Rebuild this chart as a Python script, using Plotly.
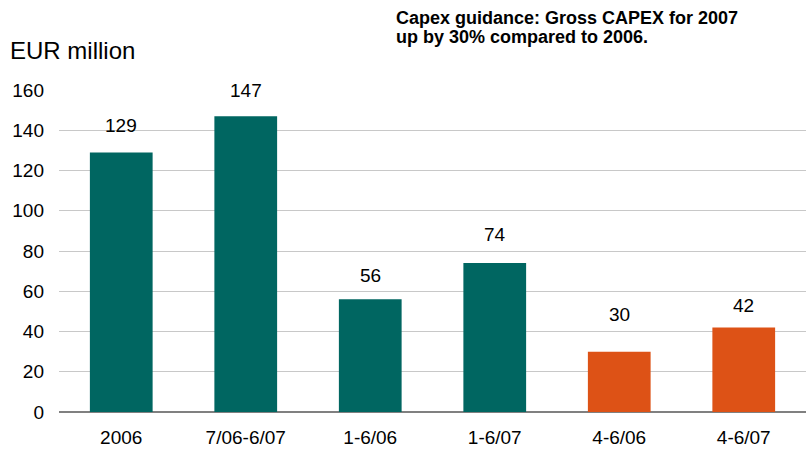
import plotly.graph_objects as go

categories = ["2006", "7/06-6/07", "1-6/06", "1-6/07", "4-6/06", "4-6/07"]
capex = [129, 147, 56, 74, 30, 42]
bar_colors = ["#006661", "#006661", "#006661", "#006661", "#DD5216", "#DD5216"]
label_offsets = [14, 13, 11, 16, 25, 9]  # pixel gap between bar top and its value label
y_ticks = [0, 20, 40, 60, 80, 100, 120, 140, 160]

FONT = "Liberation Sans, Arial, sans-serif"

fig = go.Figure()
fig.add_trace(go.Bar(
    x=categories,
    y=capex,
    marker=dict(color=bar_colors, line=dict(width=0)),
    hoverinfo="x+y",
))

# value labels above the bars (category index positions)
for i, (v, off) in enumerate(zip(capex, label_offsets)):
    fig.add_annotation(
        x=i, y=v, text=str(v), showarrow=False,
        yanchor="bottom", yshift=off,
        font=dict(family=FONT, size=19, color="#000000"),
    )

fig.add_annotation(
    xref="paper", yref="paper", x=-0.068, y=1.124,
    xanchor="left", yanchor="middle",
    text="EUR million", showarrow=False,
    font=dict(family=FONT, size=24, color="#000000"),
)
fig.add_annotation(
    xref="paper", yref="paper", x=0.449, y=1.2236,
    xanchor="left", yanchor="middle",
    text="<b>Capex guidance: Gross CAPEX for 2007</b>",
    showarrow=False,
    font=dict(family=FONT, size=18, color="#000000"),
)
fig.add_annotation(
    xref="paper", yref="paper", x=0.449, y=1.1646,
    xanchor="left", yanchor="middle",
    text="<b>up by 30% compared to 2006.</b>",
    showarrow=False,
    font=dict(family=FONT, size=18, color="#000000"),
)

fig.update_layout(
    width=806, height=452,
    margin=dict(l=59, r=0, t=90, b=40),
    paper_bgcolor="#ffffff", plot_bgcolor="#ffffff",
    bargap=0.496,
    showlegend=False,
    font=dict(family=FONT, size=19, color="#000000"),
    xaxis=dict(
        type="category",
        showgrid=False, showline=False, zeroline=False,
        ticks="", ticklabelstandoff=12,
        tickfont=dict(size=19),
    ),
    yaxis=dict(
        range=[0, 160], tickvals=y_ticks,
        showgrid=True, gridcolor="#c8c8c8", gridwidth=1,
        zeroline=True, zerolinecolor="#808080", zerolinewidth=2,
        showline=False, ticks="", ticklabelstandoff=14,
        tickfont=dict(size=19),
    ),
)

fig.write_html("out.html")
